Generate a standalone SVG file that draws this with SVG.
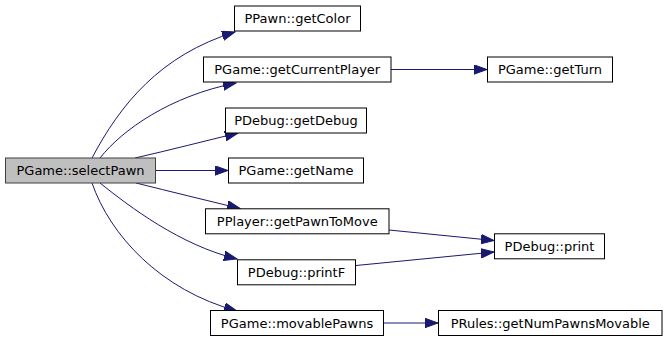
<svg xmlns="http://www.w3.org/2000/svg" width="667" height="341" viewBox="0 0 667 341">
  <style>
    .node rect { fill: #ffffff; stroke: #000000; stroke-width: 1; }
    .node.root rect { fill: #bfbfbf; stroke: #404040; }
    .node text { font-family: "DejaVu Sans", "Liberation Sans", sans-serif; font-size: 13px; fill: #000000; text-anchor: middle; }
    .edge { fill: none; stroke: #191970; stroke-width: 1; marker-end: url(#arrow); }
  </style>
  <defs>
    <marker id="arrow" markerUnits="userSpaceOnUse" markerWidth="14" markerHeight="11" refX="13" refY="5" orient="auto" viewBox="0 0 14 11">
      <path d="M0,0.3 L13,5 L0,9.7 Z" fill="#191970" stroke="#191970" stroke-width="1"/>
    </marker>
  </defs>
  <rect width="667" height="341" fill="#ffffff"/>

  <g id="connectors">
    <path class="edge" d="M92,158 C120,105 160,55 235,32"/>
    <path class="edge" d="M100,158 C122,130 170,96 236,83"/>
    <path class="edge" d="M135,158 C170,150 205,141 238,133"/>
    <path class="edge" d="M156,170.5 L228,170.5"/>
    <path class="edge" d="M136,183 C172,192 205,200 240,208.5"/>
    <path class="edge" d="M100,183 C130,207 180,245 237,259"/>
    <path class="edge" d="M92,183 C110,235 160,290 237,311"/>
    <path class="edge" d="M391,69.5 L487,69.5"/>
    <path class="edge" d="M389,230 L494,240.5"/>
    <path class="edge" d="M356,265.5 L494,252"/>
    <path class="edge" d="M384,323 L438,323"/>
  </g>

  <g id="node-selectPawn" class="node root">
    <rect x="5.5" y="158" width="150" height="25"/>
    <text x="80.5" y="175">PGame::selectPawn</text>
  </g>
  <g id="node-getColor" class="node">
    <rect x="234.5" y="6" width="126" height="25"/>
    <text x="297.5" y="23">PPawn::getColor</text>
  </g>
  <g id="node-getCurrentPlayer" class="node">
    <rect x="203.5" y="57" width="187.5" height="25"/>
    <text x="297.25" y="74">PGame::getCurrentPlayer</text>
  </g>
  <g id="node-getTurn" class="node">
    <rect x="487.5" y="57" width="125" height="25"/>
    <text x="550" y="74">PGame::getTurn</text>
  </g>
  <g id="node-getDebug" class="node">
    <rect x="225.5" y="108" width="141" height="25"/>
    <text x="296" y="125">PDebug::getDebug</text>
  </g>
  <g id="node-getName" class="node">
    <rect x="228.5" y="158" width="135" height="25"/>
    <text x="296" y="175">PGame::getName</text>
  </g>
  <g id="node-getPawnToMove" class="node">
    <rect x="205.5" y="208.8" width="183.5" height="25"/>
    <text x="297.25" y="225.8">PPlayer::getPawnToMove</text>
  </g>
  <g id="node-printF" class="node">
    <rect x="237.5" y="259.8" width="118" height="25"/>
    <text x="296.5" y="276.8">PDebug::printF</text>
  </g>
  <g id="node-movablePawns" class="node">
    <rect x="210.5" y="310.5" width="173" height="25"/>
    <text x="297" y="327.5">PGame::movablePawns</text>
  </g>
  <g id="node-print" class="node">
    <rect x="494.5" y="233.8" width="110" height="25"/>
    <text x="549.5" y="250.8">PDebug::print</text>
  </g>
  <g id="node-getNumPawnsMovable" class="node">
    <rect x="438.5" y="310.5" width="223.5" height="25"/>
    <text x="550.25" y="327.5">PRules::getNumPawnsMovable</text>
  </g>
</svg>
